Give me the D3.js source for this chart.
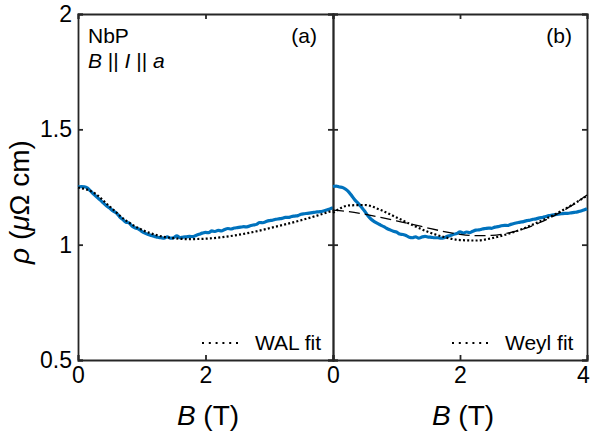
<!DOCTYPE html>
<html><head><meta charset="utf-8">
<script src="https://cdn.jsdelivr.net/npm/d3@7"></script>
<style>body{margin:0;background:#fff}svg{display:block}</style>
</head><body><svg id="c" width="590" height="437"></svg>
<script>
const dataB = d3.range(0, 81).map(i => i * 0.05);
const rhoA = [1.250,1.252,1.251,1.245,1.232,1.218,1.205,1.193,1.180,1.168,1.158,1.146,1.138,1.122,1.110,1.098,1.094,1.080,1.072,1.068,1.058,1.050,1.044,1.040,1.036,1.032,1.030,1.028,1.034,1.028,1.030,1.038,1.030,1.033,1.034,1.036,1.035,1.040,1.045,1.050,1.053,1.052,1.060,1.057,1.062,1.060,1.066,1.070,1.068,1.072,1.074,1.076,1.078,1.077,1.082,1.085,1.088,1.096,1.095,1.100,1.104,1.106,1.110,1.112,1.114,1.118,1.118,1.122,1.124,1.126,1.132,1.134,1.136,1.138,1.140,1.142,1.143,1.146,1.150,1.155,1.160];
const rhoB = [1.252,1.254,1.250,1.248,1.240,1.228,1.210,1.192,1.178,1.162,1.145,1.125,1.110,1.100,1.092,1.085,1.078,1.070,1.064,1.058,1.055,1.046,1.044,1.040,1.032,1.030,1.034,1.028,1.033,1.036,1.033,1.032,1.030,1.030,1.028,1.030,1.036,1.040,1.045,1.048,1.056,1.050,1.055,1.052,1.058,1.063,1.064,1.068,1.070,1.072,1.071,1.076,1.078,1.082,1.084,1.083,1.088,1.092,1.095,1.098,1.100,1.104,1.106,1.110,1.112,1.116,1.118,1.122,1.126,1.128,1.130,1.132,1.134,1.136,1.136,1.138,1.140,1.142,1.146,1.150,1.156];
const fitB = [0,0.25,0.5,0.75,1,1.25,1.5,1.75,2,2.25,2.5,2.75,3,3.25,3.5,3.75,4];
const walFit = [1.248,1.225,1.165,1.105,1.065,1.040,1.028,1.024,1.026,1.032,1.042,1.055,1.071,1.088,1.106,1.126,1.148];
const weylFit = [1.138,1.170,1.172,1.150,1.118,1.085,1.055,1.033,1.020,1.018,1.028,1.046,1.070,1.100,1.132,1.170,1.212];
const dashFit = [1.150,1.143,1.132,1.118,1.103,1.088,1.072,1.057,1.045,1.039,1.040,1.050,1.068,1.095,1.128,1.168,1.215];
const yTicks = [0.5,1,1.5,2];
const yTickLabels = ["0.5","1","1.5","2"];
const xTicksA = [0,2];
const xTicksB = [0,2,4];

const svg = d3.select("#c");
const font = "'Liberation Sans', Arial, sans-serif";
const ink = "#262626";
const y = d3.scaleLinear([0.5,2],[360,14]);
const xA = d3.scaleLinear([0,4],[78,333]);
const xB = d3.scaleLinear([0,4],[333,587]);

function axes(x, xt, showY) {
  const g = svg.append("g");
  const fmtY = d => yTickLabels[yTicks.indexOf(d)];
  const bottom = g.append("g").attr("transform","translate(0,360)")
    .call(d3.axisBottom(x).tickValues(xt).tickSize(-5).tickPadding(7).tickFormat(d3.format("d")));
  g.append("g").attr("transform","translate(0,14)")
    .call(d3.axisTop(x).tickValues(xt).tickSize(-5).tickFormat(""));
  g.append("g").attr("transform",`translate(${x.range()[0]},0)`)
    .call(d3.axisLeft(y).tickValues(yTicks).tickSize(-5).tickPadding(6).tickFormat(showY ? fmtY : ""));
  g.append("g").attr("transform",`translate(${x.range()[1]},0)`)
    .call(d3.axisRight(y).tickValues(yTicks).tickSize(-5).tickFormat(""));
  g.selectAll(".domain").attr("stroke", ink).attr("stroke-width", 1.8);
  g.selectAll(".tick line").attr("stroke", ink).attr("stroke-width", 1.8);
  g.selectAll(".tick text").attr("font-family", font).attr("font-size", 23).attr("fill", "#000");
  bottom.selectAll(".tick text").filter(d => d === 4).attr("dx", -4);
  return g;
}

function line(x) { return d3.line().x(d => x(d[0])).y(d => y(d[1])).curve(d3.curveMonotoneX); }

// panel a
axes(xA, xTicksA, true);
svg.append("path").datum(dataB.map((b,i)=>[b,rhoA[i]])).attr("d", line(xA))
  .attr("fill","none").attr("stroke","#0072BD").attr("stroke-width",3.2);
svg.append("path").datum(fitB.map((b,i)=>[b,walFit[i]])).attr("d", line(xA))
  .attr("fill","none").attr("stroke","#000").attr("stroke-width",2.2).attr("stroke-dasharray","2,2.2");

// panel b
axes(xB, xTicksB, false);
svg.append("path").datum(dataB.map((b,i)=>[b,rhoB[i]])).attr("d", line(xB))
  .attr("fill","none").attr("stroke","#0072BD").attr("stroke-width",3.2);
svg.append("path").datum(fitB.map((b,i)=>[b,dashFit[i]])).attr("d", line(xB))
  .attr("fill","none").attr("stroke","#000").attr("stroke-width",1.3).attr("stroke-dasharray","11,5");
svg.append("path").datum(fitB.map((b,i)=>[b,weylFit[i]])).attr("d", line(xB))
  .attr("fill","none").attr("stroke","#000").attr("stroke-width",2.2).attr("stroke-dasharray","2,2.2");

// legends
function legend(x0, label) {
  svg.append("line").attr("x1",x0).attr("x2",x0+40).attr("y1",343).attr("y2",343)
    .attr("stroke","#000").attr("stroke-width",2.2).attr("stroke-dasharray","2,4.8");
  svg.append("text").attr("x",x0+53).attr("y",350).attr("font-family",font).attr("font-size",21).text(label);
}
legend(202, "WAL fit");
legend(452, "Weyl fit");

// annotations
svg.append("text").attr("x",88).attr("y",43).attr("font-family",font).attr("font-size",21).text("NbP");
const t = svg.append("text").attr("x",88).attr("y",68).attr("font-family",font).attr("font-size",21);
t.append("tspan").attr("font-style","italic").text("B");
t.append("tspan").text(" || ");
t.append("tspan").attr("font-style","italic").text("I");
t.append("tspan").text(" || ");
t.append("tspan").attr("font-style","italic").text("a");
svg.append("text").attr("x",317).attr("y",43).attr("text-anchor","end").attr("font-family",font).attr("font-size",21).text("(a)");
svg.append("text").attr("x",572).attr("y",43).attr("text-anchor","end").attr("font-family",font).attr("font-size",21).text("(b)");

// axis labels
[[xA,208],[xB,463]].forEach(([x,cx]) => {
  const l = svg.append("text").attr("x",cx).attr("y",425).attr("text-anchor","middle").attr("font-family",font).attr("font-size",28);
  l.append("tspan").attr("font-style","italic").text("B");
  l.append("tspan").text(" (T)");
});
const yl = svg.append("text").attr("transform","translate(29,202) rotate(-90)").attr("text-anchor","middle")
  .attr("font-family",font).attr("font-size",28);
yl.append("tspan").attr("font-style","italic").text("ρ");
yl.append("tspan").text(" (");
yl.append("tspan").attr("font-style","italic").text("μ");
yl.append("tspan").text("Ω cm)");
</script></body></html>
